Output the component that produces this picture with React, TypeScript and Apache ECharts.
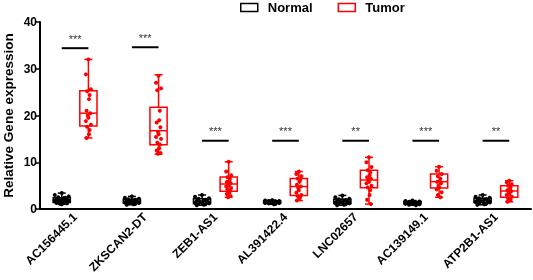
import React, { useEffect, useRef } from "react";
import * as echarts from "echarts";

const categories = ["AC156445.1", "ZKSCAN2-DT", "ZEB1-AS1", "AL391422.4", "LNC02657", "AC139149.1", "ATP2B1-AS1"];
const yTicks = { min: 0, max: 40, interval: 10 };

// [min, Q1, median, Q3, max]
const normalBox = [
  [1.0, 1.4, 1.9, 2.4, 3.4],
  [0.9, 1.3, 1.6, 2.1, 2.7],
  [0.8, 1.2, 1.6, 2.2, 3.0],
  [1.0, 1.3, 1.5, 1.7, 1.9],
  [0.8, 1.2, 1.6, 2.1, 2.9],
  [0.8, 1.1, 1.3, 1.6, 1.8],
  [0.9, 1.4, 1.8, 2.3, 3.0],
];
const tumorBox = [
  [15.2, 17.75, 20.5, 25.3, 32.0],
  [11.75, 13.75, 16.75, 21.75, 28.7],
  [2.5, 3.8, 5.35, 6.85, 10.1],
  [1.8, 2.9, 4.8, 6.55, 8.0],
  [1.05, 4.55, 6.2, 8.3, 11.05],
  [2.5, 4.5, 5.85, 7.5, 9.05],
  [1.55, 2.5, 3.85, 5.0, 6.05],
];

const normalPoints = [
  [3.4, 3.0, 2.7, 2.5, 2.4, 2.3, 2.1, 2.0, 1.9, 1.9, 1.8, 1.7, 1.6, 1.5, 1.4, 1.3, 1.2, 1.1, 1.0],
  [2.7, 2.4, 2.2, 2.1, 2.0, 1.8, 1.7, 1.6, 1.6, 1.5, 1.4, 1.3, 1.2, 1.1, 1.0, 0.9],
  [3.0, 2.6, 2.3, 2.2, 2.0, 1.9, 1.7, 1.6, 1.5, 1.4, 1.3, 1.2, 1.1, 1.0, 0.9, 0.8],
  [1.9, 1.8, 1.7, 1.7, 1.6, 1.6, 1.5, 1.5, 1.4, 1.4, 1.3, 1.3, 1.2, 1.1, 1.0],
  [2.9, 2.5, 2.2, 2.1, 1.9, 1.8, 1.7, 1.6, 1.5, 1.4, 1.3, 1.2, 1.1, 1.0, 0.9, 0.8],
  [1.8, 1.7, 1.6, 1.5, 1.4, 1.4, 1.3, 1.3, 1.2, 1.2, 1.1, 1.0, 0.9, 0.8],
  [3.0, 2.6, 2.4, 2.3, 2.1, 2.0, 1.9, 1.8, 1.7, 1.6, 1.5, 1.4, 1.3, 1.1, 1.0, 0.9],
];
const tumorPoints = [
  [32.0, 28.8, 25.6, 25.2, 24.4, 23.5, 21.0, 20.5, 20.0, 19.5, 18.8, 18.0, 17.6, 16.9, 16.0, 15.2],
  [28.5, 27.0, 25.8, 25.4, 21.0, 19.0, 18.5, 17.5, 16.5, 16.0, 15.4, 15.0, 14.2, 13.8, 13.0, 12.5, 12.0, 11.8],
  [10.1, 8.0, 7.2, 6.8, 6.5, 6.0, 5.8, 5.5, 5.3, 5.0, 4.8, 4.5, 4.2, 3.9, 3.5, 3.2, 2.8, 2.5],
  [8.0, 7.5, 7.0, 6.5, 6.2, 5.8, 5.2, 4.8, 4.5, 4.0, 3.5, 3.0, 2.8, 2.5, 2.2, 1.8],
  [11.05, 10.0, 9.0, 8.3, 7.8, 7.2, 6.8, 6.5, 6.2, 5.8, 5.5, 5.0, 4.6, 4.0, 3.0, 2.0, 1.05],
  [9.05, 8.2, 7.5, 7.0, 6.5, 6.0, 5.8, 5.5, 5.0, 4.6, 4.2, 3.6, 3.0, 2.5],
  [6.05, 5.7, 5.3, 5.0, 4.6, 4.3, 4.0, 3.8, 3.5, 3.2, 3.0, 2.6, 2.3, 2.0, 1.8, 1.55],
];

const sigHeights = [34.4, 34.6, 14.6, 14.6, 14.6, 14.6, 14.6];
const sigStars = ["***", "***", "***", "***", "**", "***", "**"];

const NORMAL_COLOR = "#000000";
const TUMOR_COLOR = "#ff0000";
const FONT = "Arial, 'Liberation Sans', Helvetica, sans-serif";
const OFFSET = 0.19; // fraction of band width
const JITTER = [0, -1, 1, -0.5, 0.5, 0.25, -0.75, 0.75, -0.25];

function boxRenderer(side: number, color: string) {
  return (params: any, api: any) => {
    const cat = api.value(0);
    const band = api.size([1, 0])[0];
    const cx = api.coord([cat, 0])[0] + side * OFFSET * band;
    const w = band * 0.245;
    const cap = 8;
    const yMin = api.coord([cat, api.value(1)])[1];
    const yQ1 = api.coord([cat, api.value(2)])[1];
    const yMed = api.coord([cat, api.value(3)])[1];
    const yQ3 = api.coord([cat, api.value(4)])[1];
    const yMax = api.coord([cat, api.value(5)])[1];
    const ls = { stroke: color, lineWidth: 1.5, fill: "none" };
    return {
      type: "group",
      children: [
        { type: "rect", shape: { x: cx - w / 2, y: yQ3, width: w, height: yQ1 - yQ3 }, style: { ...ls } },
        { type: "line", shape: { x1: cx - w / 2, y1: yMed, x2: cx + w / 2, y2: yMed }, style: { ...ls } },
        { type: "line", shape: { x1: cx, y1: yQ3, x2: cx, y2: yMax }, style: { ...ls } },
        { type: "line", shape: { x1: cx, y1: yQ1, x2: cx, y2: yMin }, style: { ...ls } },
        { type: "line", shape: { x1: cx - cap / 2, y1: yMax, x2: cx + cap / 2, y2: yMax }, style: { ...ls } },
        { type: "line", shape: { x1: cx - cap / 2, y1: yMin, x2: cx + cap / 2, y2: yMin }, style: { ...ls } },
      ],
    };
  };
}

function pointRenderer(side: number, color: string, spread: number) {
  return (params: any, api: any) => {
    const cat = api.value(0);
    const k = api.value(2);
    const band = api.size([1, 0])[0];
    const p = api.coord([cat, api.value(1)]);
    const cx = p[0] + side * OFFSET * band + JITTER[k % JITTER.length] * spread;
    return { type: "circle", shape: { cx, cy: p[1], r: 2 }, style: { fill: color } };
  };
}

function sigRenderer(params: any, api: any) {
  const cat = api.value(0);
  const band = api.size([1, 0])[0];
  const p = api.coord([cat, api.value(1)]);
  const x1 = p[0] - OFFSET * band;
  const x2 = p[0] + OFFSET * band;
  return {
    type: "group",
    children: [
      { type: "line", shape: { x1, y1: p[1], x2, y2: p[1] }, style: { stroke: "#000", lineWidth: 2 } },
      {
        type: "text",
        style: {
          x: (x1 + x2) / 2,
          y: p[1] - 4,
          text: sigStars[params.dataIndex],
          fill: "#333",
          font: `11px ${FONT}`,
          align: "center",
          verticalAlign: "bottom",
        },
      },
    ],
  };
}

export default function App() {
  const ref = useRef<HTMLDivElement>(null);
  useEffect(() => {
    if (!ref.current) return;
    const chart = echarts.init(ref.current, undefined, { renderer: "svg" });
    const boxData = (b: number[][]) => b.map((r, i) => [i, ...r]);
    const ptData = (pts: number[][]) => {
      const out: number[][] = [];
      pts.forEach((g, i) => g.forEach((v, k) => out.push([i, v, k])));
      return out;
    };
    chart.setOption({
      animation: false,
      textStyle: { fontFamily: FONT },
      legend: {
        top: -4,
        left: 235,
        icon: "rect",
        itemWidth: 17,
        itemHeight: 8,
        itemGap: 25,
        textStyle: { fontWeight: "bold", fontSize: 13, color: "#000", fontFamily: FONT, padding: [0, 0, 0, 5] },
        data: [
          { name: "Normal", itemStyle: { color: "rgba(0,0,0,0)", borderColor: NORMAL_COLOR, borderWidth: 1.5 } },
          { name: "Tumor", itemStyle: { color: "rgba(0,0,0,0)", borderColor: TUMOR_COLOR, borderWidth: 1.5 } },
        ],
      },
      grid: { left: 40, right: 2, top: 22, bottom: 71, containLabel: false, outerBoundsMode: "none" },
      xAxis: {
        type: "category",
        data: categories,
        axisLine: { lineStyle: { color: "#000", width: 2 } },
        axisTick: { alignWithLabel: true, length: 5, lineStyle: { color: "#000", width: 1.5 } },
        axisLabel: {
          interval: 0,
          rotate: 45,
          margin: 6,
          fontSize: 12,
          fontWeight: "bold",
          color: "#000",
          fontFamily: FONT,
        },
      },
      yAxis: {
        type: "value",
        min: yTicks.min,
        max: yTicks.max,
        interval: yTicks.interval,
        name: "Relative Gene expression",
        nameLocation: "middle",
        nameGap: 25,
        nameMoveOverlap: false,
        nameTextStyle: { fontSize: 13.5, fontWeight: "bold", color: "#000", fontFamily: FONT },
        splitLine: { show: false },
        axisLine: { show: true, lineStyle: { color: "#000", width: 2 } },
        axisTick: { show: true, length: 5, lineStyle: { color: "#000", width: 1.5 } },
        axisLabel: { fontSize: 12, fontWeight: "bold", color: "#000", margin: 3, fontFamily: FONT },
      },
      series: [
        { name: "Normal", type: "custom", renderItem: boxRenderer(-1, NORMAL_COLOR), data: boxData(normalBox), itemStyle: { color: NORMAL_COLOR } },
        { name: "Tumor", type: "custom", renderItem: boxRenderer(1, TUMOR_COLOR), data: boxData(tumorBox), itemStyle: { color: TUMOR_COLOR } },
        { name: "Normal", type: "custom", renderItem: pointRenderer(-1, NORMAL_COLOR, 7), data: ptData(normalPoints), itemStyle: { color: NORMAL_COLOR } },
        { name: "Tumor", type: "custom", renderItem: pointRenderer(1, TUMOR_COLOR, 2.5), data: ptData(tumorPoints), itemStyle: { color: TUMOR_COLOR } },
        { name: "sig", type: "custom", renderItem: sigRenderer, data: sigHeights.map((h, i) => [i, h]) },
      ],
    });
    return () => chart.dispose();
  }, []);
  return <div ref={ref} style={{ position: "fixed", left: 0, top: 0, width: 533, height: 280 }} />;
}
